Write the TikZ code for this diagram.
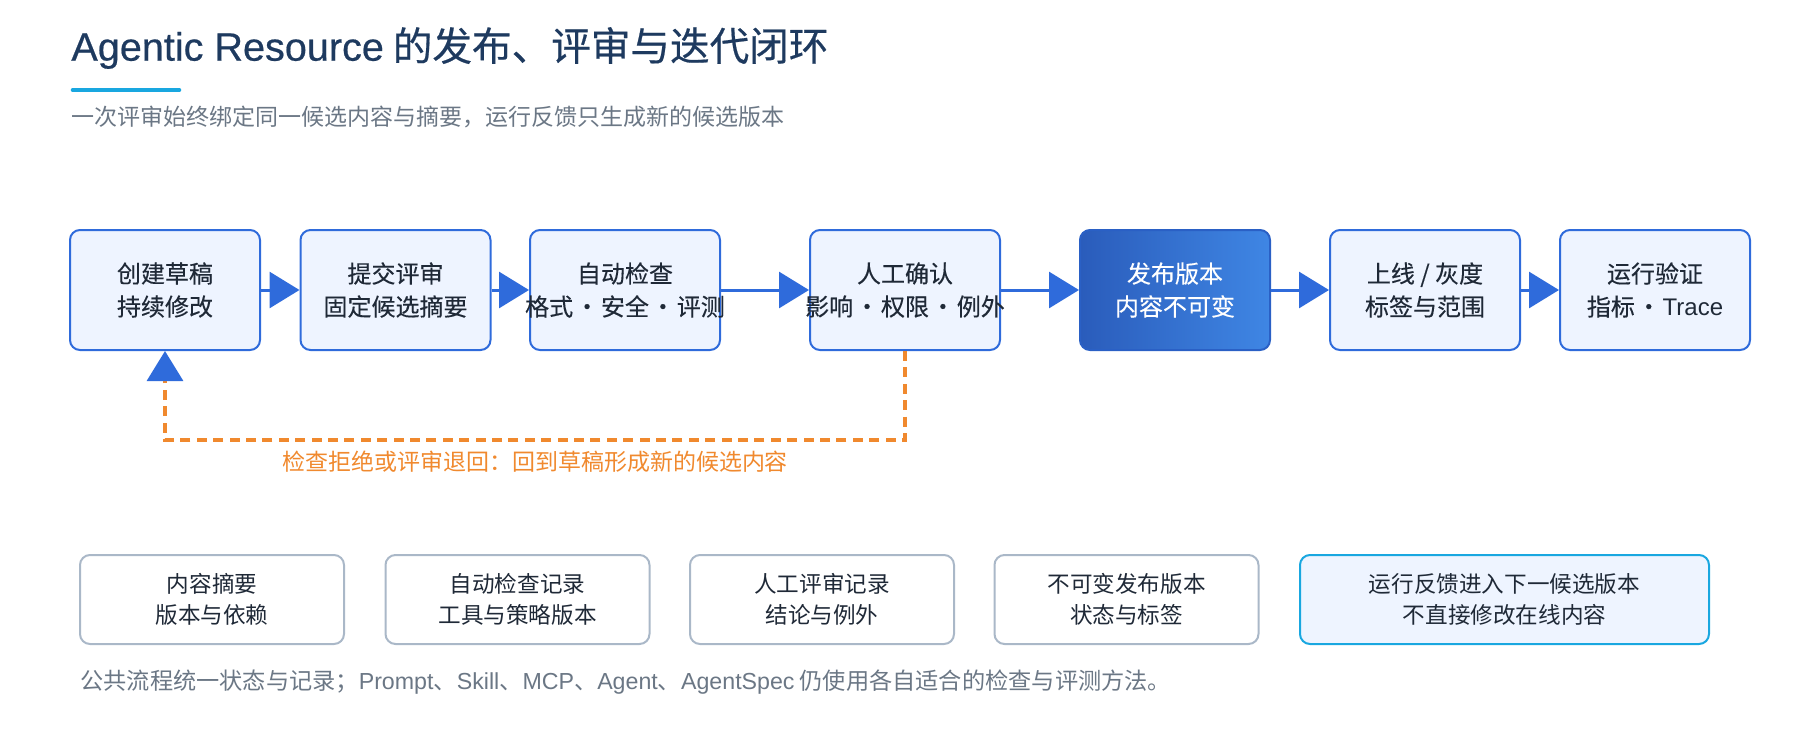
\documentclass[tikz,border=0pt]{standalone}
\usepackage{fontspec}
\setmainfont{Noto Sans CJK SC}
\newfontfamily\latfont{Liberation Sans}
\newfontfamily\headfont[FakeBold=0.5]{Noto Sans CJK SC}
\newfontfamily\headlat[FakeBold=0.5]{Liberation Sans}
\newfontfamily\stagefont[FakeBold=0.3]{Noto Sans CJK SC}
\usetikzlibrary{arrows.meta}
\definecolor{titlenavy}{HTML}{1E3A5F}
\definecolor{barcyan}{HTML}{19A7E0}
\definecolor{subgray}{HTML}{6B7785}
\definecolor{flowblue}{HTML}{2F6BDB}
\definecolor{flowfill}{HTML}{EEF4FF}
\definecolor{flowtext}{HTML}{1F2937}
\definecolor{backorange}{HTML}{F0892E}
\definecolor{notegray}{HTML}{AAB8C8}
\definecolor{pubdark}{HTML}{2A5CBB}
\definecolor{publight}{HTML}{3F86E4}
\newcommand\stagesep{\hspace{0.08em}·\hspace{0.08em}}
\begin{document}
\begin{tikzpicture}[
			x=0.5pt, y=-0.5pt,
			stage/.style={draw=flowblue, line width=1pt, fill=flowfill, rounded corners=5pt,
				minimum width=95pt, minimum height=60pt, inner sep=0pt, align=center,
				text=flowtext, font=\stagefont\fontsize{12}{16.5}\selectfont},
			pubstage/.style={stage, draw=flowblue!90!black, left color=pubdark, right color=publight, text=white},
			note/.style={draw=notegray, line width=1pt, fill=white, rounded corners=5pt,
				minimum width=132pt, minimum height=44.5pt, inner sep=0pt, align=center,
				text=flowtext, font=\fontsize{11.3}{15.5}\selectfont},
			feednote/.style={note, draw=barcyan, fill=flowfill, minimum width=204.5pt},
			flow/.style={draw=flowblue, line width=1.5pt, -{Triangle[length=15pt,width=18pt]}},
			back/.style={draw=backorange, line width=1.6pt, dash pattern=on 5pt off 3.2pt,
				-{Triangle[length=15pt,width=18pt,color=flowblue]}},
			plain/.style={anchor=west, inner sep=0pt, text=subgray}
		]
		\useasboundingbox (0,0) rectangle (1800,750);
		\node[plain, text=titlenavy, font=\headfont\fontsize{19.8}{23}\selectfont] (title) at (71,48)
			{{\headlat Agentic Resource} 的发布、评审与迭代闭环};
		\draw[barcyan, line width=2.3pt, line cap=round] (73,90) -- (179,90);
		\node[plain, font=\fontsize{11.5}{14}\selectfont] (subtitle) at (71,117)
			{一次评审始终绑定同一候选内容与摘要，运行反馈只生成新的候选版本};

		\node[stage] (draft) at (165,290) {创建草稿\\持续修改};
		\node[stage] (submit) at (395.5,290) {提交评审\\固定候选摘要};
		\node[stage] (autocheck) at (625,290) {自动检查\\\makebox[0pt]{格式\stagesep 安全\stagesep 评测}};
		\node[stage] (confirm) at (905,290) {人工确认\\\makebox[0pt]{影响\stagesep 权限\stagesep 例外}};
		\node[pubstage] (publish) at (1175,290) {发布版本\\内容不可变};
		\node[stage] (rollout) at (1425,290) {上线 / 灰度\\标签与范围};
		\node[stage] (verify) at (1655,290) {运行验证\\指标\stagesep{\latfont Trace}};

		\draw[flow] (draft) -- (submit);
		\draw[flow] (submit) -- (autocheck);
		\draw[flow] (autocheck) -- (confirm);
		\draw[flow] (confirm) -- (publish);
		\draw[flow] (publish) -- (rollout);
		\draw[flow] (rollout) -- (verify);

		\draw[back] (confirm.south) -- ++(0,89) -| (draft.south);
		\node[text=backorange, font=\fontsize{11.5}{14}\selectfont] (backlabel) at (535,462)
			{检查拒绝或评审退回：回到草稿形成新的候选内容};

		\node[note] (digest) at (212,599.5) {内容摘要\\版本与依赖};
		\node[note] (autolog) at (517.5,599.5) {自动检查记录\\工具与策略版本};
		\node[note] (reviewlog) at (822,599.5) {人工评审记录\\结论与例外};
		\node[note] (release) at (1126.5,599.5) {不可变发布版本\\状态与标签};
		\node[feednote] (feedback) at (1504.5,599.5) {运行反馈进入下一候选版本\\不直接修改在线内容};

		\node[plain, font=\fontsize{11.6}{14}\selectfont] (footer) at (80,682)
			{公共流程统一状态与记录；{\latfont Prompt}、{\latfont Skill}、{\latfont MCP}、{\latfont Agent}、{\latfont AgentSpec} 仍使用各自适合的检查与评测方法。};
	\end{tikzpicture}
\end{document}
